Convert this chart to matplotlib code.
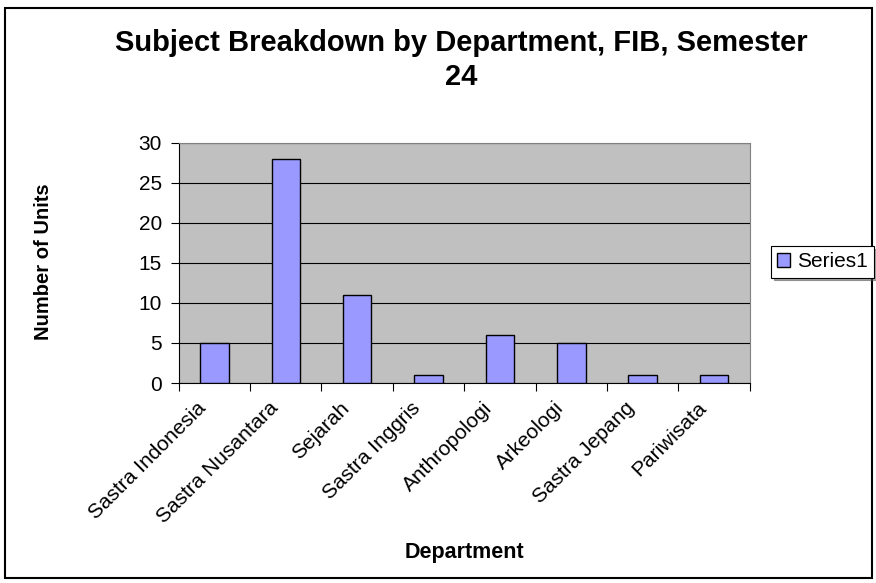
import matplotlib
matplotlib.use("Agg")
import matplotlib.pyplot as plt
import matplotlib.transforms as mtransforms
from matplotlib.patches import Rectangle, Patch

plt.rcParams['font.family'] = ['Liberation Sans', 'DejaVu Sans']

departments = ["Sastra Indonesia", "Sastra Nusantara", "Sejarah", "Sastra Inggris",
               "Anthropologi", "Arkeologi", "Sastra Jepang", "Pariwisata"]
units = [5, 28, 11, 1, 6, 5, 1, 1]

fig = plt.figure(figsize=(8.76, 5.83), dpi=100)
ax = fig.add_axes([0.204, 0.343, 0.652, 0.412])

# outer chart frame
fig.patches.append(Rectangle((0.006, 0.009), 0.99, 0.978, transform=fig.transFigure,
                             fill=False, edgecolor='black', linewidth=1.5))

x = range(len(departments))
ax.bar(x, units, width=0.4, color='#9999FF', edgecolor='black', linewidth=1, zorder=3)

ax.set_facecolor('#C0C0C0')
ax.set_xlim(-0.5, len(departments) - 0.5)
ax.set_ylim(0, 30)
ax.set_yticks(range(0, 31, 5))
ax.yaxis.grid(True, color='black', linewidth=0.8, zorder=1)
ax.tick_params(axis='y', direction='out', length=6, labelsize=15, pad=6)

# category boundaries as ticks, labels centered on bars
ax.set_xticks([i - 0.5 for i in range(len(departments) + 1)])
ax.set_xticklabels([])
ax.set_xticks(list(x), minor=True)
ax.set_xticklabels(departments, minor=True, rotation=45, ha='right', va='center',
                   rotation_mode='anchor', fontsize=15)
ax.tick_params(axis='x', which='major', direction='out', length=6)
ax.tick_params(axis='x', which='minor', length=0, pad=16)
shift = mtransforms.ScaledTranslation(-11 / 100, 0, fig.dpi_scale_trans)
for lbl in ax.get_xticklabels(minor=True):
    lbl.set_transform(lbl.get_transform() + shift)

for s in ['top', 'right']:
    ax.spines[s].set_color('#808080')
for s in ['left', 'bottom']:
    ax.spines[s].set_color('black')

fig.text(0.527, 0.897, "Subject Breakdown by Department, FIB, Semester\n24",
         ha='center', va='center', fontsize=21, fontweight='bold', linespacing=1.3)
fig.text(0.05, 0.551, "Number of Units", rotation=90, ha='center', va='center',
         fontsize=14.5, fontweight='bold')
fig.text(0.53, 0.053, "Department", ha='center', va='center',
         fontsize=15.5, fontweight='bold')

leg = fig.legend(handles=[Patch(facecolor='#9999FF', edgecolor='black', label='Series1')],
                 loc='center left', bbox_to_anchor=(0.88, 0.551), fontsize=15,
                 frameon=True, fancybox=False, shadow=True, handlelength=0.62,
                 handleheight=0.62, handletextpad=0.35, borderpad=0.3,
                 borderaxespad=0)
leg.get_frame().set_edgecolor('black')
leg.get_frame().set_linewidth(0.8)

fig.savefig("out.png", dpi=100)
